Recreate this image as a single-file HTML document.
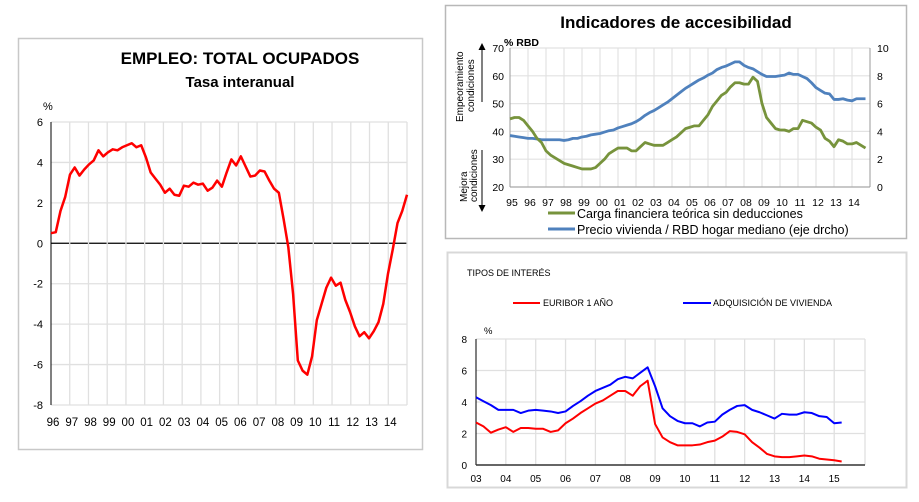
<!DOCTYPE html>
<html><head><meta charset="utf-8">
<style>
body{margin:0;background:#fff;width:919px;height:502px;overflow:hidden;font-family:"Liberation Sans",sans-serif;}
svg{position:absolute;left:0;top:0}
text{font-family:"Liberation Sans",sans-serif}
</style></head>
<body>
<svg id="s" width="919" height="502"></svg>
<script>
// ---- Chart 1: Empleo total ocupados (quarterly 96Q1..14Q4)
const empYears = ["96","97","98","99","00","01","02","03","04","05","06","07","08","09","10","11","12","13","14"];
const empTicks = [6,4,2,0,-2,-4,-6,-8];
const empValues = [0.5,0.55,1.6,2.3,3.4,3.75,3.35,3.65,3.9,4.1,4.6,4.3,4.5,4.65,4.6,4.75,4.85,4.95,4.75,4.85,4.25,3.5,3.2,2.9,2.5,2.7,2.4,2.35,2.85,2.8,3.0,2.9,2.95,2.6,2.75,3.1,2.8,3.5,4.15,3.85,4.3,3.8,3.3,3.35,3.6,3.55,3.1,2.7,2.5,1.2,-0.2,-2.5,-5.8,-6.3,-6.5,-5.6,-3.8,-3.0,-2.2,-1.7,-2.1,-1.95,-2.8,-3.4,-4.1,-4.6,-4.4,-4.7,-4.35,-3.9,-3.0,-1.5,-0.3,1.0,1.6,2.4];
// ---- Chart 2: Indicadores de accesibilidad (quarterly 95Q1..14Q4)
const accYears = ["95","96","97","98","99","00","01","02","03","04","05","06","07","08","09","10","11","12","13","14"];
const accLeftTicks = [70,60,50,40,30,20];
const accRightTicks = [10,8,6,4,2,0];
const cargaValues = [44.5,45,45,44,42,40,37.5,36,33,31.5,30.5,29.5,28.5,28,27.5,27,26.5,26.5,26.5,27,28.5,30,32,33,34,34,34,33,33,34.5,36,35.5,35,35,35,36,37,38,39.5,41,41.5,42,42,44,46,49,51,53,54,56,57.5,57.5,57,57,59.5,58,50,45,43,41,40.5,40.5,40,41,41,44,43.5,43,41.5,40.5,37.5,36.5,34.5,37,36.5,35.5,35.5,36,35,34];
const precioValues = [3.7,3.65,3.6,3.55,3.5,3.5,3.45,3.4,3.4,3.4,3.4,3.4,3.35,3.4,3.5,3.5,3.6,3.65,3.75,3.8,3.85,3.95,4.05,4.1,4.25,4.35,4.45,4.55,4.7,4.9,5.15,5.35,5.5,5.7,5.9,6.1,6.35,6.6,6.85,7.1,7.3,7.5,7.7,7.85,8.05,8.2,8.45,8.6,8.7,8.85,9.0,9.0,8.75,8.6,8.5,8.3,8.1,7.95,7.95,7.95,8.0,8.05,8.2,8.1,8.1,7.95,7.8,7.5,7.15,6.95,6.75,6.7,6.3,6.3,6.35,6.25,6.2,6.35,6.35,6.35];
// ---- Chart 3: Tipos de interés (quarterly 03Q1..15Q2)
const tipYears = ["03","04","05","06","07","08","09","10","11","12","13","14","15"];
const tipTicks = [8,6,4,2,0];
const euriborValues = [2.7,2.45,2.05,2.25,2.4,2.1,2.35,2.35,2.3,2.3,2.1,2.2,2.65,2.95,3.3,3.6,3.9,4.1,4.4,4.7,4.7,4.4,5.0,5.35,2.6,1.75,1.45,1.25,1.25,1.25,1.3,1.45,1.55,1.8,2.15,2.1,1.95,1.45,1.1,0.7,0.55,0.5,0.5,0.55,0.6,0.55,0.4,0.35,0.3,0.22];
const viviendaValues = [4.3,4.05,3.8,3.5,3.5,3.5,3.3,3.45,3.5,3.45,3.4,3.3,3.4,3.75,4.05,4.4,4.7,4.9,5.1,5.45,5.6,5.5,5.85,6.2,5.0,3.6,3.1,2.8,2.65,2.65,2.45,2.7,2.75,3.2,3.5,3.75,3.8,3.5,3.35,3.15,2.95,3.25,3.2,3.2,3.35,3.3,3.1,3.05,2.65,2.7];

const NS="http://www.w3.org/2000/svg";
const svg=document.getElementById('s');
function mk(tag,attrs,parent){const e=document.createElementNS(NS,tag);for(const k in attrs)e.setAttribute(k,attrs[k]);(parent||svg).appendChild(e);return e;}
function txt(x,y,s,size,attrs){const t=mk('text',Object.assign({x:x,y:y,'font-size':size,fill:'#000'},attrs||{}));t.textContent=s;return t;}

// Panel frames
let p;
p=mk('rect',{x:18.5,y:38.5,width:404,height:411,fill:'none',stroke:'#c8c8c8','stroke-width':1.5});


p=mk('rect',{x:445.5,y:5.5,width:461,height:233,fill:'none',stroke:'#b8b8b8','stroke-width':1.5});


p=mk('rect',{x:447.5,y:252.5,width:459,height:235,fill:'none',stroke:'#d8d8d8','stroke-width':2});



// ===== Chart 1 =====
(function(){
 const x0=51,x1=407,yTop=122,yBot=405,vMax=6,vMin=-8;
 const yS=v=>yTop+(vMax-v)/(vMax-vMin)*(yBot-yTop);
 const step=(x1-x0)/19;
 const xS=i=>x0+i*(x1-x0)/(empValues.length-1);
 let t=txt(240,64,'EMPLEO: TOTAL  OCUPADOS',17,{'font-weight':'bold','text-anchor':'middle'});
 
 
 t=txt(240,87,'Tasa interanual',15,{'font-weight':'bold','text-anchor':'middle'});
 
 
 t=txt(43,110,'%',11,{});
 
 
 empTicks.forEach(v=>{
  const g=mk('line',{x1:x0,x2:x1,y1:yS(v),y2:yS(v),stroke:v===0?'#000':'#e0e0e0','stroke-width':v===0?1.2:1.3});
  
  
  const l=txt(43,yS(v)+4,String(v),11,{'text-anchor':'end'});
  
  
 });
 empYears.forEach((y,i)=>{
  const xx=x0+i*step;
  if(i>0){const g=mk('line',{x1:xx,x2:xx,y1:yTop,y2:yBot,stroke:'#e0e0e0','stroke-width':1.3});
  
  }
  const l=txt(xx+2,426,y,11.5,{'text-anchor':'middle'});
  
  
 });
 mk('line',{x1:x1,x2:x1,y1:yTop,y2:yBot,stroke:'#e0e0e0','stroke-width':1.3});
 const ax=mk('line',{x1:x0,x2:x0,y1:yTop,y2:yBot,stroke:'#000','stroke-width':1});
 
 
 const line=mk('polyline',{points:empValues.map((v,i)=>xS(i)+','+yS(v)).join(' '),fill:'none',stroke:'#ff0000','stroke-width':2.5,'stroke-linejoin':'round'});
 
 
})();

// ===== Chart 2 =====
(function(){
 const x0=510,x1=870,yTop=48,yBot=187;
 const yL=v=>yTop+(70-v)/50*(yBot-yTop);
 const yR=v=>yTop+(10-v)/10*(yBot-yTop);
 const step=(x1-x0)/20;
 const xS=i=>x0+i*step/4;
 let t=txt(676,28,'Indicadores de accesibilidad',17,{'font-weight':'bold','text-anchor':'middle'});
 
 
 t=txt(504,46,'% RBD',10.5,{'font-weight':'bold'});
 
 
 accLeftTicks.forEach((v,k)=>{
  const g=mk('line',{x1:x0,x2:x1,y1:yL(v),y2:yL(v),stroke:'#e2e2e2','stroke-width':1.2});
  
  
  const l=txt(504,yL(v)+4,String(v),10.5,{'text-anchor':'end'});
  
  
 });
 accRightTicks.forEach(v=>{
  const l=txt(877,yR(v)+4,String(v),10.5,{});
  
  
 });
 accYears.forEach((y,i)=>{
  const xx=x0+i*step;
  if(i>0){const g=mk('line',{x1:xx,x2:xx,y1:yTop,y2:yBot,stroke:'#e2e2e2','stroke-width':1.2});
  
  }
  const l=txt(xx+2,206,y,10.5,{'text-anchor':'middle'});
  
  
 });
 mk('line',{x1:x0,x2:x0,y1:yTop,y2:yBot,stroke:'#999','stroke-width':1});
 mk('line',{x1:x1,x2:x1,y1:yTop,y2:yBot,stroke:'#999','stroke-width':1});
 mk('line',{x1:x0,x2:x1,y1:yBot,y2:yBot,stroke:'#999','stroke-width':1});
 let l=mk('polyline',{points:precioValues.map((v,i)=>xS(i)+','+yR(v)).join(' '),fill:'none',stroke:'#4f81bd','stroke-width':2.8,'stroke-linejoin':'round'});
 
 
 l=mk('polyline',{points:cargaValues.map((v,i)=>xS(i)+','+yL(v)).join(' '),fill:'none',stroke:'#77933c','stroke-width':2.8,'stroke-linejoin':'round'});
 
 
 // side labels
 t=txt(0,0,'Empeoramiento',10,{transform:'translate(463,122) rotate(-90)'});
 
 
 t=txt(0,0,'condiciones',10,{transform:'translate(474,112) rotate(-90)'});
 
 
 t=txt(0,0,'Mejora',10,{transform:'translate(467,202) rotate(-90)'});
 
 
 t=txt(0,0,'condiciones',10,{transform:'translate(477,202) rotate(-90)'});
 
 
 let a=mk('line',{x1:482,x2:482,y1:102,y2:50,stroke:'#000','stroke-width':1});
 
 
 mk('polygon',{points:'478.5,50 485.5,50 482,43',fill:'#000'});
 a=mk('line',{x1:482,x2:482,y1:150,y2:205,stroke:'#000','stroke-width':1});
 
 
 mk('polygon',{points:'478.5,205 485.5,205 482,212',fill:'#000'});
 // legend
 let g=mk('line',{x1:548,x2:575,y1:213,y2:213,stroke:'#77933c','stroke-width':3});
 
 
 t=txt(577,218,'Carga financiera teórica sin deducciones',12.5,{});
 
 
 g=mk('line',{x1:548,x2:575,y1:229,y2:229,stroke:'#4f81bd','stroke-width':3});
 
 
 t=txt(577,234,'Precio vivienda / RBD hogar mediano (eje drcho)',12.5,{});
 
 
})();

// ===== Chart 3 =====
(function(){
 const x0=476,x1=865,yTop=339,yBot=465;
 const step=29.85;
 const yS=v=>yTop+(8-v)/8*(yBot-yTop);
 const xS=i=>x0+i*step/4;
 let t=txt(467,276,'TIPOS DE INTERÉS',9,{});
 
 
 t=txt(484,334,'%',9.5,{});
 
 
 let g=mk('line',{x1:513,x2:540,y1:303,y2:303,stroke:'#ff0000','stroke-width':2});
 
 
 t=txt(543,306,'EURIBOR 1 AÑO',9,{});
 
 
 g=mk('line',{x1:683,x2:711,y1:303,y2:303,stroke:'#0000ff','stroke-width':2});
 
 
 t=txt(713,306,'ADQUISICIÓN DE VIVIENDA',9,{});
 
 
 tipTicks.forEach(v=>{
  if(v>0){const gl=mk('line',{x1:x0,x2:x1,y1:yS(v),y2:yS(v),stroke:'#e0e0e0','stroke-width':1.3});
  
  }
  const l=txt(467,yS(v)+4,String(v),10,{'text-anchor':'end'});
  
  
 });
 tipYears.forEach((y,i)=>{
  const xx=x0+i*step;
  if(i>0){const gl=mk('line',{x1:xx,x2:xx,y1:yTop,y2:yBot,stroke:'#e0e0e0','stroke-width':1.3});
  
  }
  const l=txt(xx,482,y,10,{'text-anchor':'middle'});
  
  
 });
 mk('line',{x1:x1,x2:x1,y1:yTop,y2:yBot,stroke:'#e0e0e0','stroke-width':1.3});
 mk('line',{x1:x0,x2:x0,y1:yTop,y2:yBot,stroke:'#000','stroke-width':1});
 mk('line',{x1:x0,x2:x1,y1:yBot,y2:yBot,stroke:'#333','stroke-width':1.5});
 let l=mk('polyline',{points:viviendaValues.map((v,i)=>xS(i)+','+yS(v)).join(' '),fill:'none',stroke:'#0000ff','stroke-width':2,'stroke-linejoin':'round'});
 
 
 l=mk('polyline',{points:euriborValues.map((v,i)=>xS(i)+','+yS(v)).join(' '),fill:'none',stroke:'#ff0000','stroke-width':2,'stroke-linejoin':'round'});
 
 
})();
</script>
</body></html>
